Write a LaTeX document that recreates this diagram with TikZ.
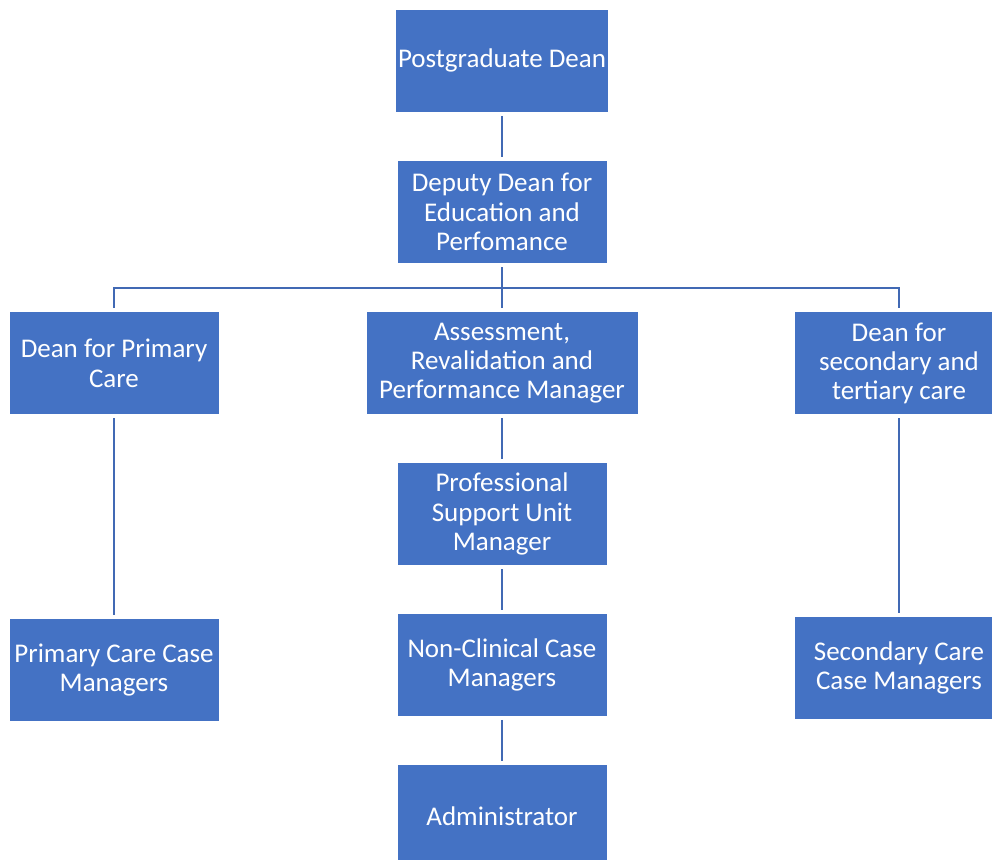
\documentclass[tikz,border=0pt]{standalone}
\usepackage{fontspec}
\setmainfont{Carlito}
\usepackage{tikz}
\definecolor{orgblue}{HTML}{4472C4}
\definecolor{linkblue}{HTML}{4169B4}

\begin{document}
\begin{tikzpicture}[
    box/.style={fill=orgblue, draw=white, line width=0.6pt, text=white,
      minimum width=5.25cm, minimum height=2.58cm, align=center,
      outer sep=2.5pt, inner sep=2pt,
      font=\fontsize{19.2}{20.8}\selectfont},
    link/.style={draw=linkblue, line width=1.6pt}
  ]
  \useasboundingbox (0,0) rectangle (24.8,-21.475);

  % Top
  \node[box] (pgdean) at (12.55,-1.52) {Postgraduate Dean};
  \node[box] (deputy) at (12.55,-5.3) {Deputy Dean for\\Education and\\Perfomance};

  % Middle row
  \node[box] (primary) at (2.85,-9.08) {Dean for Primary\\Care};
  \node[box, minimum width=6.8cm] (assess) at (12.55,-9.08) {Assessment,\\Revalidation and\\Performance Manager};
  \node[box] (secondary) at (22.475,-9.08) {Dean for\\secondary and\\tertiary care};

  % Lower rows
  \node[box] (psu) at (12.55,-12.85) {Professional\\Support Unit\\Manager};
  \node[box] (primcm) at (2.85,-16.75) {Primary Care Case\\Managers};
  \node[box] (nonclin) at (12.55,-16.62) {Non-Clinical Case\\Managers};
  \node[box] (seccm) at (22.475,-16.7) {Secondary Care\\Case Managers};
  \node[box] (admin) at (12.55,-20.4) {Administrator};

  % Connectors
  \coordinate (bus) at (12.55,-7.2);
  \draw[link] (pgdean) -- (deputy);
  \draw[link] (deputy) -- (bus);
  \draw[link] (primary) |- (bus) -| (secondary);
  \draw[link] (bus) -- (assess);
  \draw[link] (assess) -- (psu);
  \draw[link] (psu) -- (nonclin);
  \draw[link] (nonclin) -- (admin);
  \draw[link] (primary) -- (primcm);
  \draw[link] (secondary) -- (seccm);
\end{tikzpicture}
\end{document}
